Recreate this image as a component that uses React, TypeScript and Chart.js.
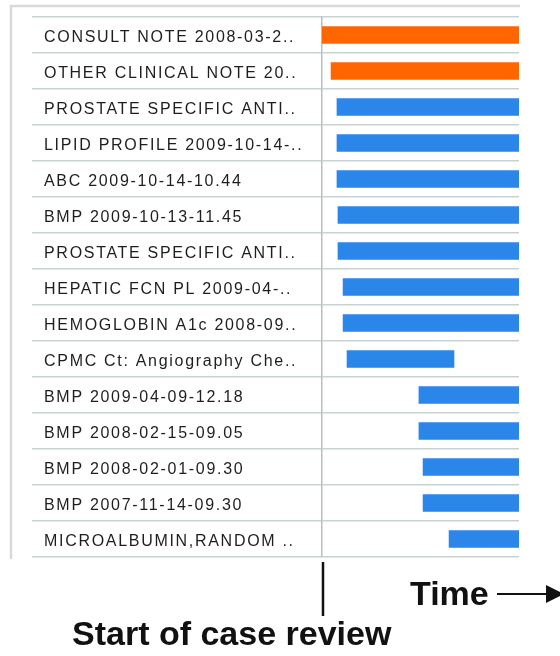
import React, { useEffect, useRef } from 'react';
import { Chart, registerables } from 'chart.js';

Chart.register(...registerables);

const categories = [
  'CONSULT NOTE 2008-03-2..',
  'OTHER CLINICAL NOTE 20..',
  'PROSTATE SPECIFIC ANTI..',
  'LIPID PROFILE 2009-10-14-..',
  'ABC 2009-10-14-10.44',
  'BMP 2009-10-13-11.45',
  'PROSTATE SPECIFIC ANTI..',
  'HEPATIC FCN PL 2009-04-..',
  'HEMOGLOBIN A1c 2008-09..',
  'CPMC Ct: Angiography Che..',
  'BMP 2009-04-09-12.18',
  'BMP 2008-02-15-09.05',
  'BMP 2008-02-01-09.30',
  'BMP 2007-11-14-09.30',
  'MICROALBUMIN,RANDOM ..',
];

const eventKinds = [
  'note', 'note', 'lab', 'lab', 'lab', 'lab', 'lab', 'lab',
  'lab', 'lab', 'lab', 'lab', 'lab', 'lab', 'lab',
];

const startValues = [0, 4.6, 7.6, 7.6, 7.6, 8.1, 8.1, 10.7, 10.7, 12.7, 49.2, 49.2, 51.3, 51.3, 64.5];
const endValues = [100, 100, 100, 100, 100, 100, 100, 100, 100, 67, 100, 100, 100, 100, 100];

const kindColors: Record<string, string> = { note: '#ff6600', lab: '#2b86ea' };

const timeLabel = 'Time';
const startLabel = 'Start of case review';

export default function App() {
  const ref = useRef<HTMLCanvasElement>(null);

  useEffect(() => {
    const canvas = ref.current;
    if (!canvas) return;

    const overlay = {
      id: 'overlay',
      beforeDraw(chart: any) {
        const ctx = chart.ctx as CanvasRenderingContext2D;
        ctx.save();
        ctx.strokeStyle = '#d6dada';
        ctx.lineWidth = 2.5;
        ctx.beginPath();
        ctx.moveTo(520, 6);
        ctx.lineTo(11, 6);
        ctx.lineTo(11, 559);
        ctx.stroke();
        ctx.restore();
        (ctx as any).letterSpacing = '1.7px';
      },
      afterDraw(chart: any) {
        const ctx = chart.ctx as CanvasRenderingContext2D;
        (ctx as any).letterSpacing = '0px';
        const x0 = chart.scales.x.getPixelForValue(0);
        const bottom = chart.chartArea.bottom;
        ctx.save();
        ctx.strokeStyle = '#111';
        ctx.fillStyle = '#111';
        ctx.lineWidth = 2.5;
        ctx.beginPath();
        ctx.moveTo(x0 + 1, bottom + 5);
        ctx.lineTo(x0 + 1, bottom + 59);
        ctx.stroke();

        ctx.font = 'bold 34px "Liberation Sans", Arial, sans-serif';
        ctx.textBaseline = 'alphabetic';
        ctx.textAlign = 'left';
        ctx.fillText(timeLabel, 410, 605);
        ctx.fillText(startLabel, 72, 645);

        ctx.lineWidth = 2;
        ctx.beginPath();
        ctx.moveTo(497, 594);
        ctx.lineTo(548, 594);
        ctx.stroke();
        ctx.beginPath();
        ctx.moveTo(546, 585);
        ctx.lineTo(564, 594);
        ctx.lineTo(546, 603);
        ctx.closePath();
        ctx.fill();
        ctx.restore();
      },
    };

    const chart = new Chart(canvas, {
      type: 'bar',
      data: {
        labels: categories,
        datasets: [
          {
            data: startValues.map((s, i) => [s, endValues[i]]) as any,
            backgroundColor: eventKinds.map((k) => kindColors[k]),
            borderWidth: 0,
            barThickness: 17,
          },
        ],
      },
      options: {
        indexAxis: 'y',
        animation: false,
        responsive: false,
        layout: { padding: { left: 44, right: 41, top: 17, bottom: 99 } },
        plugins: { legend: { display: false }, tooltip: { enabled: false } },
        scales: {
          x: { type: 'linear', min: 0, max: 100, display: false },
          y: {
            type: 'category',
            offset: true,
            afterFit(scale: any) {
              scale.width = 278;
            },
            grid: {
              offset: true,
              color: '#c8d2d2',
              lineWidth: 1.5,
              drawTicks: true,
              tickLength: 290,
              tickColor: '#c8d2d2',
              tickWidth: 1.5,
            },
            border: { display: true, color: '#b4c0c0', width: 1.5 },
            ticks: {
              crossAlign: 'far',
              labelOffset: 3,
              color: '#1e1e1e',
              autoSkip: false,
              font: { family: '"Liberation Sans", Arial, sans-serif', size: 16 },
            },
          },
        },
      },
      plugins: [overlay],
    });

    return () => chart.destroy();
  }, []);

  return (
    <div style={{ position: 'absolute', left: 0, top: 0, width: 560, height: 656, background: '#fff' }}>
      <canvas ref={ref} width={560} height={656} style={{ width: 560, height: 656, display: 'block' }} />
    </div>
  );
}
